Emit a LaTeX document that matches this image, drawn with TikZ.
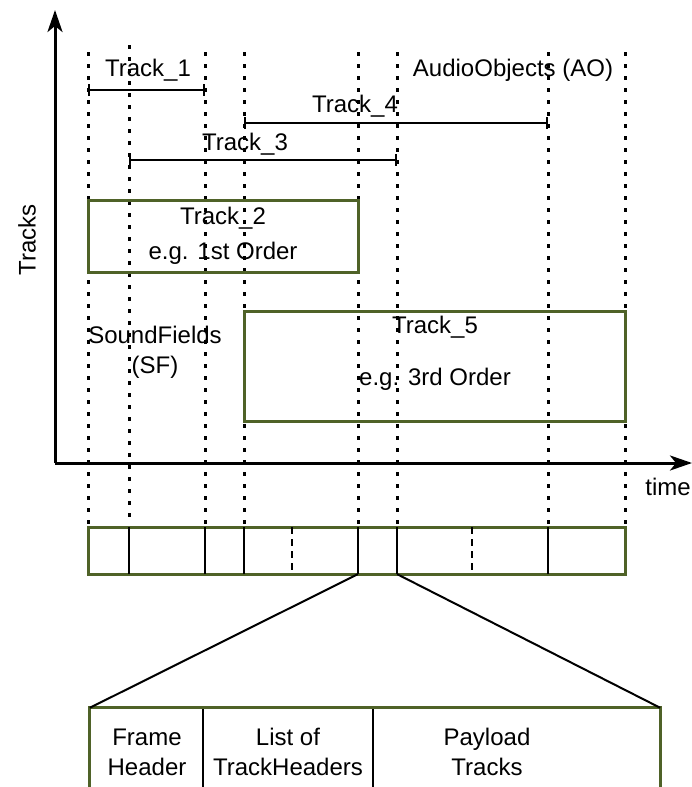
\documentclass[tikz,border=0pt]{standalone}
\usepackage{fontspec}
\setmainfont{Liberation Sans}
\usepackage{tikz}
\usetikzlibrary{positioning}
\usetikzlibrary{arrows.meta}
\definecolor{olivegreen}{RGB}{79,98,40}

\begin{document}
\begin{tikzpicture}[x=1pt, y=-1pt, font=\fontsize{24}{30}\selectfont,
    box/.style = {draw=olivegreen, line width=3pt, inner sep=0pt},
    txt/.style = {align=center, inner sep=0pt},
    timeline/.style = {line width=3pt, dash pattern=on 3.5pt off 8.5pt},
    span/.style = {line width=2pt, {Bar[width=12pt]}-{Bar[width=12pt]}},
    axis/.style = {line width=3pt, -{Stealth[length=22pt, width=15pt, inset=6pt]}}]
            \useasboundingbox (0,0) rectangle (692,787);
            % Time marks
            \foreach \x in {88,205,244,358,397,548,625}
                \draw[timeline] (\x,52) -- (\x,524);
            \draw[timeline] (129,45) -- (129,524);
            % Axes
            \coordinate (o) at (55,463);
            \coordinate (ytop) at (55,10);
            \coordinate (xend) at (692,463);
            \draw[axis] (o) -- (ytop);
            \draw[axis] (o) -- (xend);
            \node[txt, rotate=90] (tracks) at (27,240) {Tracks};
            \node[txt] (time) at (668,487) {time};
            % AudioObjects
            \node[txt] (ao) at (513,70) {AudioObjects (AO)};
            \coordinate (t1a) at (88,90);
            \coordinate (t1b) at (205,90);
            \coordinate (t4a) at (244,123);
            \coordinate (t4b) at (548,123);
            \coordinate (t3a) at (129,160);
            \coordinate (t3b) at (397,160);
            \draw[span] (t1a) -- (t1b);
            \draw[span] (t4a) -- (t4b);
            \draw[span] (t3a) -- (t3b);
            \node[txt] (track1) at (148,70) {Track\_1};
            \node[txt] (track4) at (355,106) {Track\_4};
            \node[txt] (track3) at (245,144) {Track\_3};
            % SoundFields
            \node[box, minimum width=270pt, minimum height=72pt] (track2) at (223,236) {};
            \node[txt] at (track2) {Track\_2\\[5pt]e.g. 1st Order};
            \node[box, minimum width=381pt, minimum height=110pt] (track5) at (434.5,366) {};
            \node[txt] at (435,353) {Track\_5\\[22pt]e.g. 3rd Order};
            \node[txt] (sf) at (155,352) {SoundFields\\(SF)};
            % Frame
            \node[box, minimum width=537pt, minimum height=47pt] (frame) at (356.5,550.5) {};
            \foreach \x in {129,205,244,358,397,548}
                \draw[line width=2pt] (\x,527) -- (\x,574);
            \foreach \x in {292,472}
                \draw[line width=2pt, dash pattern=on 7pt off 5pt] (\x,527) -- (\x,574);
            \node[inner sep=0pt, minimum width=39pt, minimum height=47pt] (sel) at (377.5,550.5) {};
            % Frame details
            \node[inner sep=0pt, minimum width=570pt, minimum height=82pt] (detail) at (375,749) {};
            \draw[olivegreen, line width=3pt] (detail.south west) -- (detail.north west) -- (detail.north east) -- (detail.south east);
            \draw[line width=2pt] (sel.south west) -- (detail.north west);
            \draw[line width=2pt] (sel.south east) -- (detail.north east);
            \draw[line width=2pt] (203,709) -- (203,790);
            \draw[line width=2pt] (373,709) -- (373,790);
            \node[txt] (fh) at (147,752) {Frame\\Header};
            \node[txt] (th) at (288,752) {List of\\TrackHeaders};
            \node[txt] (pt) at (487,752) {Payload\\Tracks};
\end{tikzpicture}
\end{document}
